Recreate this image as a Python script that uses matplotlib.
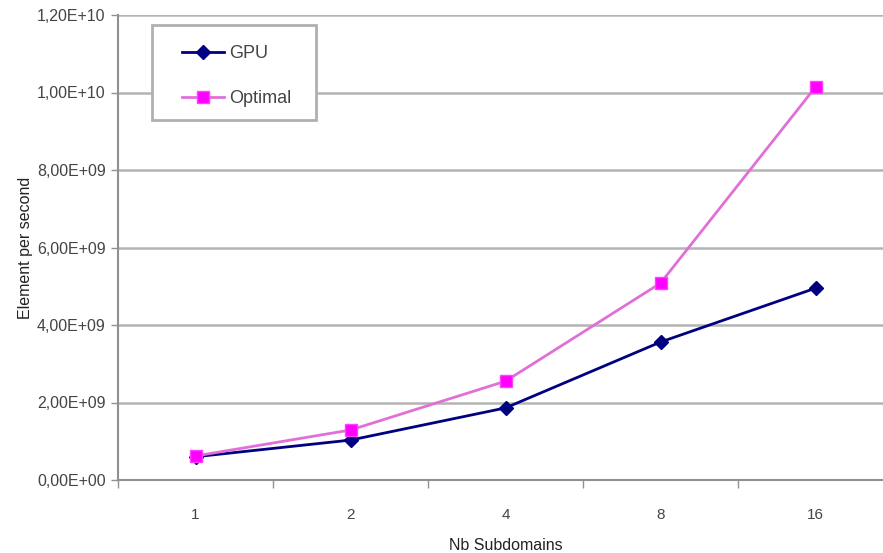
import matplotlib
matplotlib.use("Agg")
import matplotlib.pyplot as plt
from matplotlib.patches import Rectangle
from matplotlib.ticker import FixedLocator, FuncFormatter

plt.rcParams['font.family'] = ['Liberation Sans', 'DejaVu Sans']

# Data
subdomains = ["1", "2", "4", "8", "16"]
gpu = [6.0e8, 1.03e9, 1.86e9, 3.56e9, 4.95e9]
optimal = [6.2e8, 1.29e9, 2.55e9, 5.08e9, 1.014e10]
y_ticks = [0, 2e9, 4e9, 6e9, 8e9, 1.0e10, 1.2e10]

W, H = 883, 553
fig = plt.figure(figsize=(W / 100, H / 100), dpi=100)
ax = fig.add_axes([118 / W, (H - 480) / H, (893 - 118) / W, (480 - 15) / H])

x = list(range(len(subdomains)))
ax.plot(x, gpu, color='#000080', lw=2.0, marker='D', ms=7,
        markerfacecolor='#000080', markeredgecolor='#000080', label='GPU')
ax.plot(x, optimal, color='#e070d8', lw=2.0, marker='s', ms=9,
        markerfacecolor='#ff00ff', markeredgecolor='#ff40ff', label='Optimal')

ax.set_xlim(-0.5, 4.5)
ax.set_ylim(0, 1.2e10)

ax.yaxis.set_major_locator(FixedLocator(y_ticks))
ax.yaxis.set_major_formatter(FuncFormatter(
    lambda v, p: ("%.2E" % v).replace('.', ',')))
ax.grid(axis='y', color='#b4b4b4', lw=1.8)
ax.set_axisbelow(True)

ax.set_xticks(x)
ax.set_xticklabels(subdomains)
ax.set_xticks([-0.5, 0.5, 1.5, 2.5, 3.5], minor=True)
ax.tick_params(axis='x', which='major', length=0, pad=20, labelsize=11, labelcolor='#444444')
ax.tick_params(axis='x', which='minor', length=6, width=1, color='#909090')
ax.tick_params(axis='y', which='major', length=5, width=1, color='#909090',
               labelsize=11.5, labelcolor='#444444', pad=4)

for s in ['top', 'right']:
    ax.spines[s].set_visible(False)
for s in ['left', 'bottom']:
    ax.spines[s].set_color('#909090')
    ax.spines[s].set_linewidth(1.5)

ax.set_xlabel('Nb Subdomains', fontsize=11.5, color='#222222', labelpad=12)
ax.set_ylabel('Element per second', fontsize=11.5, color='#222222', labelpad=3)

# Legend box drawn as a plain frame, entries placed inside it
frame = Rectangle((152 / W, 1 - 120 / H), (316 - 152) / W, (120 - 25) / H,
                  transform=fig.transFigure, facecolor='white',
                  edgecolor='#b0b0b0', lw=2, zorder=5, clip_on=False)
ax.add_patch(frame)
leg = ax.legend(loc='upper left', bbox_to_anchor=(182 / W, 1 - 45 / H),
                bbox_transform=fig.transFigure,
                frameon=False, fontsize=13, handlelength=2.3,
                borderpad=0, labelspacing=1.55, handletextpad=0.3,
                borderaxespad=0)
leg.set_zorder(6)
for t in leg.get_texts():
    t.set_color('#444444')

fig.savefig('out.png', dpi=100)
